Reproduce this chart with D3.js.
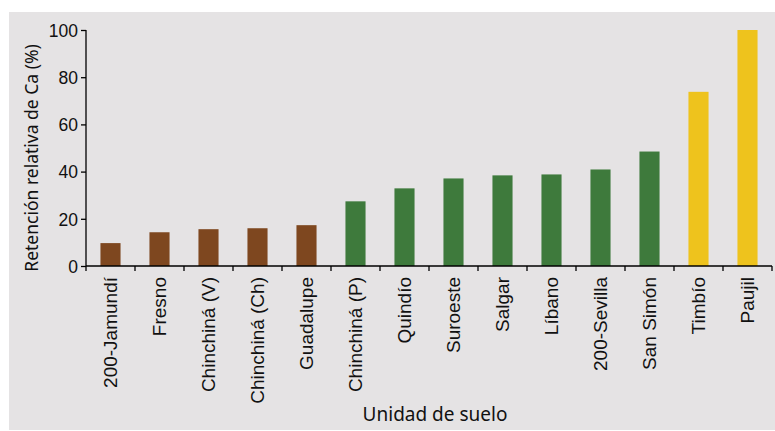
<!DOCTYPE html>
<html>
<head>
<meta charset="utf-8">
<script src="https://cdn.jsdelivr.net/npm/d3@7"></script>
<style>
  body { margin: 0; background: #fff; }
  svg { display: block; font-family: "Noto Sans", sans-serif; }
</style>
</head>
<body>
<div id="chart-area"></div>
<script>
// data
const categories = ["200-Jamundí", "Fresno", "Chinchiná (V)", "Chinchiná (Ch)", "Guadalupe",
  "Chinchiná (P)", "Quindío", "Suroeste", "Salgar", "Líbano", "200-Sevilla", "San Simón",
  "Timbío", "Paujil"]
const values = [9.7, 14.3, 15.6, 16.0, 17.3, 27.4, 32.9, 37.1, 38.4, 38.8, 40.9, 48.5, 73.8, 100]
const groups = ["a", "a", "a", "a", "a", "b", "b", "b", "b", "b", "b", "b", "c", "c"]
const yTicks = [0, 20, 40, 60, 80, 100]

const COLORS = {a: "#7e471f", b: "#3e7a3c", c: "#eec31d"}
const W = 775
const H = 431
const MARGIN = {LEFT: 86, RIGHT: 3, TOP: 30, BOTTOM: 165}
const WIDTH = W - MARGIN.LEFT - MARGIN.RIGHT
const HEIGHT = H - MARGIN.TOP - MARGIN.BOTTOM

const svg = d3.select("#chart-area").append("svg")
    .attr("width", W)
    .attr("height", H)

// grey panel
svg.append("rect")
    .attr("x", 9)
    .attr("y", 12)
    .attr("width", W - 9)
    .attr("height", 418)
    .attr("fill", "#e5e3e4")

const g = svg.append("g")
    .attr("transform", `translate(${MARGIN.LEFT}, ${MARGIN.TOP})`)

const x = d3.scaleBand()
    .domain(categories)
    .range([0, WIDTH])
    .paddingInner(0.59)
    .paddingOuter(0.295)

const y = d3.scaleLinear()
    .domain([0, 100])
    .range([HEIGHT, 0])

g.selectAll("rect.bar")
  .data(categories)
  .enter().append("rect")
    .attr("class", "bar")
    .attr("x", d => x(d))
    .attr("y", (d, i) => y(values[i]))
    .attr("width", x.bandwidth())
    .attr("height", (d, i) => HEIGHT - y(values[i]))
    .attr("fill", (d, i) => COLORS[groups[i]])

// y axis
const yAxis = g.append("g")
    .call(d3.axisLeft(y).tickValues(yTicks).tickSize(5).tickPadding(3))
yAxis.select(".domain").attr("stroke-width", 1.3).attr("d", `M0,${HEIGHT}V0`)
yAxis.selectAll(".tick line").attr("stroke-width", 1.3)
yAxis.selectAll("text")
    .attr("font-size", "17.5px")
    .attr("fill", "#111")
    .attr("dy", "0.36em")

// x axis: labels at band centres, ticks at band boundaries
const xAxis = g.append("g")
    .attr("transform", `translate(0, ${HEIGHT})`)
    .call(d3.axisBottom(x).tickSize(0).tickPadding(0))
xAxis.select(".domain").attr("stroke-width", 1.3).attr("d", `M0,0H${WIDTH}`)
xAxis.selectAll(".tick text")
    .attr("font-size", "19px")
    .attr("fill", "#111")
    .attr("text-anchor", "end")
    .attr("transform", "rotate(-90)")
    .attr("x", -11)
    .attr("y", 0)
    .attr("dy", "0.36em")

xAxis.selectAll("line.bound")
  .data(d3.range(categories.length + 1))
  .enter().append("line")
    .attr("class", "bound")
    .attr("x1", i => x.range()[0] + i * x.step())
    .attr("x2", i => x.range()[0] + i * x.step())
    .attr("y1", 0)
    .attr("y2", 5)
    .attr("stroke", "#000")
    .attr("stroke-width", 1.3)

// X label
svg.append("text")
    .attr("x", 435)
    .attr("y", 421)
    .attr("font-size", "19px")
    .attr("text-anchor", "middle")
    .attr("fill", "#111")
    .text("Unidad de suelo")

// Y label
svg.append("text")
    .attr("transform", "rotate(-90)")
    .attr("x", -158)
    .attr("y", 38)
    .attr("font-size", "17.5px")
    .attr("text-anchor", "middle")
    .attr("fill", "#111")
    .text("Retención relativa de Ca (%)")
</script>
</body>
</html>
